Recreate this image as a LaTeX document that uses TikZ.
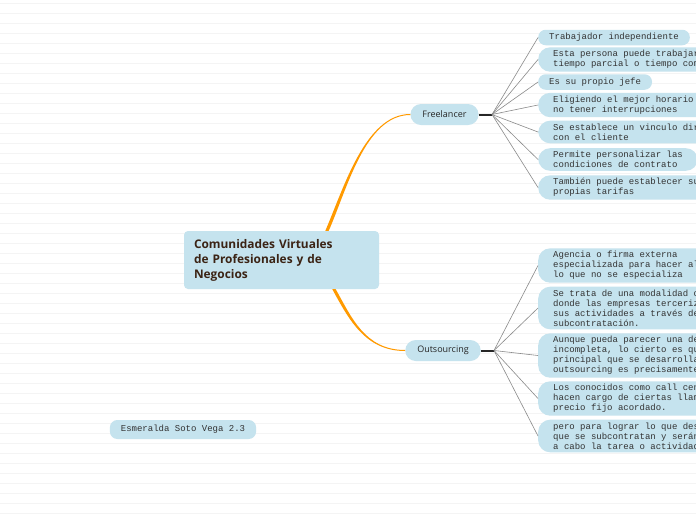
\documentclass[tikz,border=0pt]{standalone}
\usepackage{fontspec}
\setmainfont{Open Sans}
\newfontfamily\monofont{Liberation Mono}
\usetikzlibrary{positioning}

\definecolor{nodebg}{HTML}{C5E3EE}
\definecolor{maintext}{HTML}{3B2314}
\definecolor{leaftext}{HTML}{333333}
\definecolor{branchorange}{HTML}{FF9A00}
\definecolor{fangray}{HTML}{8A8A8A}
\definecolor{paperline}{HTML}{F4F4F4}

\begin{document}
\begin{tikzpicture}[
    x=1pt, y=-1pt,
    central/.style={fill=nodebg, rounded corners=4pt, minimum width=195pt, minimum height=58pt, text width=175pt, inner xsep=10pt, align=left, text=maintext, font=\bfseries\fontsize{11.9}{15}\selectfont},
    topic/.style={fill=nodebg, rounded corners=10.5pt, minimum height=21pt, inner xsep=12pt, inner ysep=0pt, text=black!85, font=\fontsize{9}{10}\selectfont},
    leaf/.style={fill=nodebg, rounded corners=12pt, anchor=west, align=left, inner xsep=15pt, inner ysep=3pt, text=leaftext, font=\monofont\fontsize{9}{10}\selectfont},
    tag/.style={fill=nodebg, rounded corners=7.5pt, anchor=west, inner xsep=11pt, inner ysep=3pt, minimum height=15.5pt, text=leaftext, font=\monofont\fontsize{9}{10}\selectfont},
    branch/.style={fill=branchorange},
    stub/.style={line width=2pt, black!85},
    fan/.style={line width=0.6pt, fangray},
    grid/.style={line width=0.6pt, paperline}
]
\useasboundingbox (0,0) rectangle (696,520);
\clip (0,0) rectangle (696,520);
\fill[white] (0,0) rectangle (696,520);
\foreach \y in {3.5,13.5,...,513.5}
    \draw[grid] (0,\y) -- (696,\y);

% central topic and main branches
\node[central] (main) at (281.5,260) {Comunidades Virtuales\\de Profesionales y de\\Negocios};
\node[topic] (free) at (444.5,114.5) {Freelancer};
\node[topic] (out) at (443,350.5) {Outsourcing};
\node[tag, anchor=center, minimum height=19pt] (author) at (183,429.5) {Esmeralda Soto Vega 2.3};

% Freelancer
\node[tag] (f1) at (538,37.5) {Trabajador independiente};
\node[leaf] (f2) at (538,59.5) {Esta persona puede trabajar a\\tiempo parcial o tiempo completo};
\node[tag] (f3) at (538,82) {Es su propio jefe};
\node[leaf] (f4) at (538,105) {Eligiendo el mejor horario para\\no tener interrupciones};
\node[leaf] (f5) at (538,132) {Se establece un vinculo directo\\con el cliente};
\node[leaf] (f6) at (538,159.5) {Permite personalizar las\\condiciones de contrato};
\node[leaf] (f7) at (538,187.5) {También puede establecer sus\\propias tarifas};

% Outsourcing
\node[leaf] (o1) at (538,265.5) {Agencia o firma externa\\especializada para hacer algo\\lo que no se especializa};
\node[leaf] (o2) at (538,308) {Se trata de una modalidad o\\donde las empresas tercerizan\\sus actividades a través de\\subcontratación.};
\node[leaf] (o3) at (538,355.5) {Aunque pueda parecer una definición\\incompleta, lo cierto es que\\principal que se desarrolla\\outsourcing es precisamente};
\node[leaf] (o4) at (538,398.5) {Los conocidos como call centers\\hacen cargo de ciertas llamadas\\precio fijo acordado.};
\node[leaf] (o5) at (538,436) {pero para lograr lo que desea\\que se subcontratan y serán\\a cabo la tarea o actividad};

% tapered branches
\fill[branch] ([xshift=43.8pt]main.north) .. controls (343.4,189.3) and (365,114) .. ([yshift=0.5pt]free.west)
    -- ([yshift=-0.5pt]free.west) .. controls (365,115) and (346.6,190.7) .. ([xshift=47.2pt]main.north) -- cycle;
\fill[branch] ([xshift=50.8pt]main.south) .. controls (348.5,318.8) and (365,351) .. ([yshift=-0.5pt]out.west)
    -- ([yshift=0.5pt]out.west) .. controls (365,350) and (351.5,317.2) .. ([xshift=54.2pt]main.south) -- cycle;

% fans
\coordinate (fhub) at (492,114.5);
\coordinate (ohub) at (494,350.5);
\draw[stub] (free.east) -- (fhub);
\draw[stub] (out.east) -- (ohub);
\foreach \n in {1,...,7}
    \draw[fan] (fhub) -- (f\n.west);
\foreach \n in {1,...,5}
    \draw[fan] (ohub) -- (o\n.west);
\end{tikzpicture}
\end{document}
